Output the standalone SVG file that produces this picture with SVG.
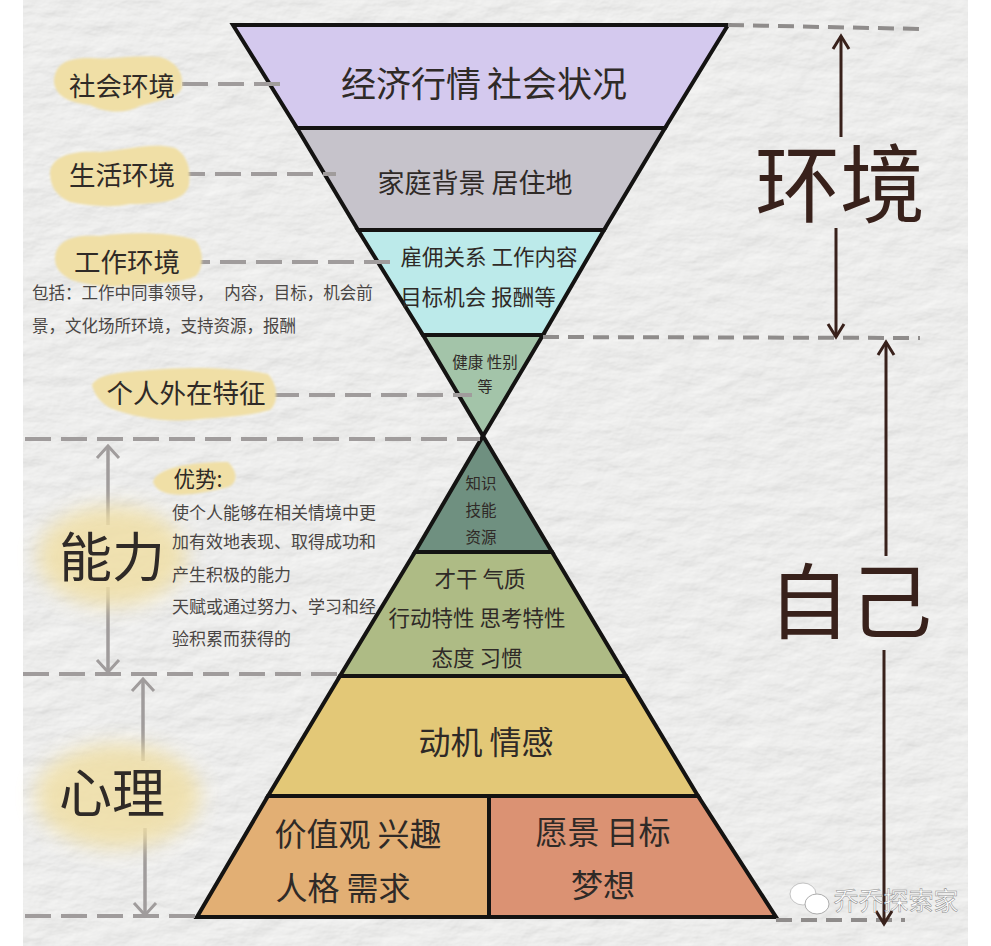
<svg xmlns="http://www.w3.org/2000/svg" width="991" height="946" viewBox="0 0 991 946">
<defs>
<filter id="paper" x="0" y="0" width="100%" height="100%">
<feTurbulence type="fractalNoise" baseFrequency="0.025 0.05" numOctaves="5" seed="11" result="n"/>
<feDiffuseLighting in="n" surfaceScale="1.3" diffuseConstant="1.08" lighting-color="#f1f1f0"><feDistantLight azimuth="235" elevation="62"/></feDiffuseLighting>
</filter>
<filter id="soft" x="-30%" y="-30%" width="160%" height="160%"><feGaussianBlur stdDeviation="10"/></filter>
<filter id="edge" x="-10%" y="-10%" width="120%" height="120%"><feGaussianBlur stdDeviation="1.2"/></filter>
<marker id="agray" viewBox="-14 -14 28 28" markerWidth="28" markerHeight="28" markerUnits="userSpaceOnUse" refX="0" refY="0" orient="auto-start-reverse"><path d="M-12,-11 L0,0 L-12,11" fill="none" stroke="#a09c9c" stroke-width="3"/></marker>
<marker id="adark" viewBox="-14 -14 28 28" markerWidth="28" markerHeight="28" markerUnits="userSpaceOnUse" refX="0" refY="0" orient="auto-start-reverse"><path d="M-13,-8 L0,0 L-13,8" fill="none" stroke="#38211b" stroke-width="3"/></marker>
</defs>
<style>
text{font-family:"Noto Sans CJK SC","Noto Sans",sans-serif;fill:#2f2a27;text-anchor:middle}
.s{stroke:#141312;stroke-width:4;stroke-linejoin:miter}
.d{fill:none;stroke:#a09c9c;stroke-width:4;stroke-dasharray:26 10}
.g{fill:none;stroke:#a09c9c;stroke-width:3.5}
.k{fill:none;stroke:#38211b;stroke-width:3}
.b{fill:#f0dfa6;filter:url(#edge)}
.n{fill:#4a4644;text-anchor:start}
</style>
<rect width="991" height="946" fill="#fff"/>
<rect x="23" y="0" width="945" height="946" fill="#eeeeed" filter="url(#paper)"/>

<g id="layer-economy"><path class="s" d="M233,25H728L665,128H297Z" fill="#d4c9ee"/><text x="484" y="97" font-size="35" word-spacing="-2">经济行情 社会状况</text></g>
<g id="layer-family"><path class="s" d="M297,128H665L604,230H358Z" fill="#c6c3cb"/><text x="475" y="193" font-size="27">家庭背景 居住地</text></g>
<g id="layer-work"><path class="s" d="M358,230H604L543,335H423Z" fill="#bceaea"/><text x="489" y="265" font-size="21.5">雇佣关系 工作内容</text><text x="478" y="305" font-size="21.5">目标机会 报酬等</text></g>
<g id="layer-health"><path class="s" d="M423,335H543L483,436Z" fill="#a3c4a9"/><text x="485" y="368" font-size="15.5">健康 性别</text><text x="485" y="392" font-size="15">等</text></g>
<g id="layer-knowledge"><path class="s" d="M483,436L552,552H415Z" fill="#6f9080"/><text x="481" y="489" font-size="15.5">知识</text><text x="481" y="516" font-size="15.5">技能</text><text x="481" y="543" font-size="15.5">资源</text></g>
<g id="layer-talent"><path class="s" d="M415,552H552L626,676H340Z" fill="#aebb85"/><text x="480" y="587" font-size="21.5">才干 气质</text><text x="477" y="626" font-size="21.5">行动特性 思考特性</text><text x="477" y="666" font-size="21.5">态度 习惯</text></g>
<g id="layer-motive"><path class="s" d="M340,676H626L698,796H268Z" fill="#e3c877"/><text x="486" y="754" font-size="32">动机 情感</text></g>
<g id="layer-values"><path class="s" d="M268,796H489V917H197Z" fill="#e2af74"/><text x="358" y="846" font-size="32">价值观 兴趣</text><text x="343" y="900" font-size="32">人格 需求</text></g>
<g id="layer-vision"><path class="s" d="M489,796H698L776,917H489Z" fill="#db9273"/><text x="603" y="844" font-size="32">愿景 目标</text><text x="603" y="897" font-size="32">梦想</text></g>

<g id="connectors">
<path class="d" d="M182,84H288"/>
<path class="d" d="M179,174H336"/>
<path class="d" d="M184,262H390"/>
<path class="d" d="M273,395H472"/>
<path class="d" d="M25,439H480"/>
<path class="d" d="M23,674H346"/>
<path class="d" d="M25,916H197"/>
<path d="M728,25L922,29M543,337L920,338M776,920H905" fill="none" stroke="#8f8c8b" stroke-width="4" stroke-dasharray="16 9"/>
<path class="g" d="M108,525V446" marker-end="url(#agray)"/>
<path class="g" d="M108,587V672" marker-end="url(#agray)"/>
<path class="g" d="M143,761V679" marker-end="url(#agray)"/>
<path class="g" d="M145,828V915" marker-end="url(#agray)"/>
<path class="k" d="M841,137V36" marker-end="url(#adark)"/>
<path class="k" d="M836,228V337" marker-end="url(#adark)"/>
<path class="k" d="M886,556V342" marker-end="url(#adark)"/>
<path class="k" d="M884,650V924" marker-end="url(#adark)"/>
</g>

<g id="label-social"><path class="b" d="M54,80C56,64 66,58 90,58C110,60 130,55 160,57C176,62 184,72 182,88C178,98 160,100 140,106C125,114 105,113 90,105C70,103 54,96 54,80Z"/><text x="122" y="96" font-size="26.5">社会环境</text></g>
<g id="label-life"><path class="b" d="M50,172C52,158 68,150 100,152C130,150 150,142 175,148C188,156 191,170 189,185C186,198 170,204 130,204C110,208 90,206 70,202C56,196 50,186 50,172Z"/><text x="122" y="185" font-size="26.5">生活环境</text></g>
<g id="label-work"><path class="b" d="M55,258C56,242 70,234 100,236C130,232 170,232 195,240C204,250 204,268 196,276C180,284 160,282 140,285C110,288 90,286 72,280C60,274 55,268 55,258Z"/><text x="127" y="272" font-size="26.5">工作环境</text></g>
<g id="label-external"><path class="b" d="M92,385C98,374 120,372 150,370C190,366 240,368 268,374C278,385 279,402 270,410C240,418 215,417 190,420C160,422 130,416 110,408C100,402 94,394 92,385Z"/><text x="186" y="403" font-size="26.5">个人外在特征</text></g>
<g id="label-ability"><ellipse cx="112" cy="556" rx="74" ry="50" fill="#f0dfa6" opacity=".85" filter="url(#soft)"/><text x="112" y="577" font-size="53">能力</text></g>
<g id="label-psych"><ellipse cx="118" cy="796" rx="82" ry="52" fill="#f0dfa6" opacity=".85" filter="url(#soft)"/><text x="112" y="813" font-size="53">心理</text></g>
<g id="label-strength"><path class="b" d="M153,482C156,468 190,462 228,462C238,472 238,483 228,487C200,494 160,502 153,482Z"/><text x="198" y="487" font-size="21.5">优势:</text></g>

<g id="note-work">
<text class="n" x="32" y="299" font-size="16.5" word-spacing="7">包括：工作中同事领导， 内容，目标，机会前</text>
<text class="n" x="32" y="332" font-size="16.5">景，文化场所环境，支持资源，报酬</text>
</g>
<g id="note-strength">
<text class="n" x="172" y="519" font-size="17">使个人能够在相关情境中更</text>
<text class="n" x="172" y="548" font-size="17">加有效地表现、取得成功和</text>
<text class="n" x="172" y="581" font-size="17">产生积极的能力</text>
<text class="n" x="172" y="613" font-size="17">天赋或通过努力、学习和经</text>
<text class="n" x="172" y="645" font-size="17">验积累而获得的</text>
</g>
<g id="title-env"><text x="840" y="216" font-size="85" style="fill:#38211b">环境</text></g>
<g id="title-self"><text x="850" y="632" font-size="82" style="fill:#38211b">自己</text></g>
<g id="watermark">
<ellipse cx="803" cy="894" rx="13" ry="11" fill="#fff" stroke="#b5b5b5" stroke-width=".8"/><ellipse cx="817" cy="904" rx="12" ry="10" fill="#fff" stroke="#999" stroke-width=".8"/>
<text x="896" y="910" font-size="25" style="fill:#fff;stroke:#8a8a8a;stroke-width:.5">乔乔探索家</text></g>
</svg>
